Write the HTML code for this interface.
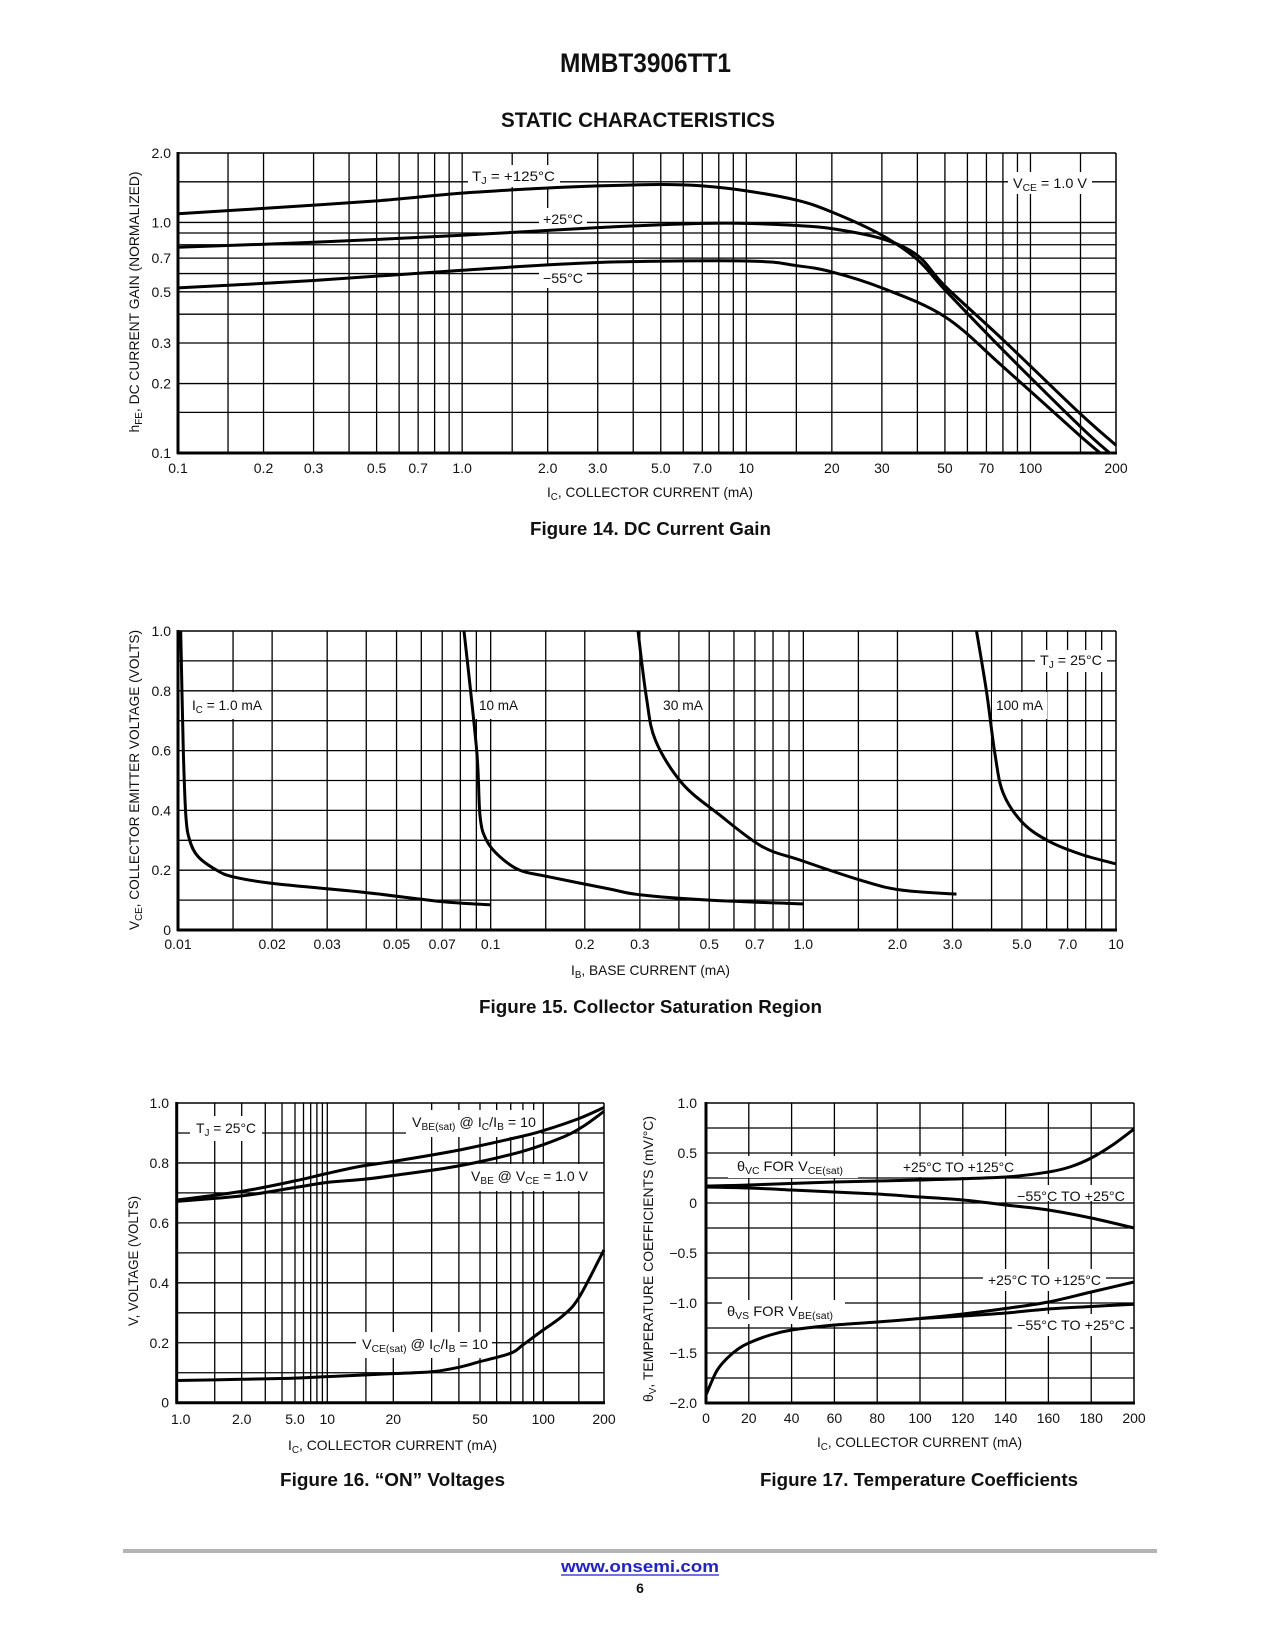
<!DOCTYPE html>
<html>
<head>
<meta charset="utf-8">
<style>
html,body{margin:0;padding:0;background:#fff;}
svg{display:block;font-family:"Liberation Sans",Arial,sans-serif;}
.t{font-size:14px;fill:#111;}
.b{font-weight:bold;fill:#111;}
</style>
</head>
<body>
<svg id="page" xmlns="http://www.w3.org/2000/svg" width="1275" height="1650" viewBox="0 0 1275 1650">
<rect x="0" y="0" width="1275" height="1650" fill="#fff"/>
<g id="grids"></g>
<g id="bgs" fill="#fff">
  <rect x="468" y="165" width="92" height="22"/>
  <rect x="539" y="208" width="48" height="21"/>
  <rect x="539" y="266" width="48" height="22"/>
  <rect x="1008" y="172" width="84" height="22"/>
  <rect x="188" y="692" width="78" height="27"/>
  <rect x="475" y="692" width="47" height="27"/>
  <rect x="659" y="692" width="48" height="27"/>
  <rect x="992" y="692" width="55" height="27"/>
  <rect x="1035" y="650" width="72" height="22"/>
  <rect x="190" y="1116" width="72" height="25"/>
  <rect x="406" y="1110" width="135" height="27"/>
  <rect x="466" y="1164" width="126" height="27"/>
  <rect x="356" y="1332" width="136" height="26"/>
  <rect x="728" y="1156" width="130" height="22"/>
  <rect x="898" y="1156" width="122" height="21"/>
  <rect x="1012" y="1185" width="118" height="16"/>
  <rect x="983" y="1269" width="123" height="22"/>
  <rect x="722" y="1300" width="123" height="24"/>
  <rect x="1012" y="1314" width="118" height="22"/>
</g>
<g id="frames"></g>
<g id="curves"></g>
<g id="ticks"></g>

<!-- headings -->
<text class="b" x="560" y="72" font-size="27" textLength="171" lengthAdjust="spacingAndGlyphs">MMBT3906TT1</text>
<text class="b" x="501" y="127" font-size="21" textLength="274" lengthAdjust="spacingAndGlyphs">STATIC CHARACTERISTICS</text>

<!-- fig 14 -->
<text class="t" transform="translate(139,302) rotate(-90)" text-anchor="middle" textLength="261" lengthAdjust="spacingAndGlyphs">h<tspan font-size="10" dy="3">FE</tspan><tspan dy="-3">, DC CURRENT GAIN (NORMALIZED)</tspan></text>
<text class="t" x="547" y="497" textLength="206" lengthAdjust="spacingAndGlyphs">I<tspan font-size="10" dy="3">C</tspan><tspan dy="-3">, COLLECTOR CURRENT (mA)</tspan></text>
<text class="b" x="530" y="535" font-size="18" textLength="241" lengthAdjust="spacingAndGlyphs">Figure 14. DC Current Gain</text>
<text class="t" x="472" y="181" textLength="83" lengthAdjust="spacingAndGlyphs">T<tspan font-size="10" dy="3">J</tspan><tspan dy="-3"> = +125°C</tspan></text>
<text class="t" x="543" y="224" textLength="40" lengthAdjust="spacingAndGlyphs">+25°C</text>
<text class="t" x="543" y="283" textLength="40" lengthAdjust="spacingAndGlyphs">−55°C</text>
<text class="t" x="1013" y="188" textLength="74" lengthAdjust="spacingAndGlyphs">V<tspan font-size="10" dy="3">CE</tspan><tspan dy="-3"> = 1.0 V</tspan></text>

<!-- fig 15 -->
<text class="t" transform="translate(139,780) rotate(-90)" text-anchor="middle" textLength="300" lengthAdjust="spacingAndGlyphs">V<tspan font-size="10" dy="3">CE</tspan><tspan dy="-3">, COLLECTOR EMITTER VOLTAGE (VOLTS)</tspan></text>
<text class="t" x="571" y="975" textLength="159" lengthAdjust="spacingAndGlyphs">I<tspan font-size="10" dy="3">B</tspan><tspan dy="-3">, BASE CURRENT (mA)</tspan></text>
<text class="b" x="479" y="1013" font-size="18" textLength="343" lengthAdjust="spacingAndGlyphs">Figure 15. Collector Saturation Region</text>
<text class="t" x="192" y="710" textLength="70" lengthAdjust="spacingAndGlyphs">I<tspan font-size="10" dy="3">C</tspan><tspan dy="-3"> = 1.0 mA</tspan></text>
<text class="t" x="479" y="710" textLength="39" lengthAdjust="spacingAndGlyphs">10 mA</text>
<text class="t" x="663" y="710" textLength="40" lengthAdjust="spacingAndGlyphs">30 mA</text>
<text class="t" x="996" y="710" textLength="47" lengthAdjust="spacingAndGlyphs">100 mA</text>
<text class="t" x="1040" y="665" textLength="62" lengthAdjust="spacingAndGlyphs">T<tspan font-size="10" dy="3">J</tspan><tspan dy="-3"> = 25°C</tspan></text>

<!-- fig 16 -->
<text class="t" transform="translate(138,1261) rotate(-90)" text-anchor="middle" textLength="130" lengthAdjust="spacingAndGlyphs">V, VOLTAGE (VOLTS)</text>
<text class="t" x="288" y="1450" textLength="209" lengthAdjust="spacingAndGlyphs">I<tspan font-size="10" dy="3">C</tspan><tspan dy="-3">, COLLECTOR CURRENT (mA)</tspan></text>
<text class="b" x="280" y="1486" font-size="18" textLength="225" lengthAdjust="spacingAndGlyphs">Figure 16. “ON” Voltages</text>
<text class="t" x="196" y="1133" textLength="60" lengthAdjust="spacingAndGlyphs">T<tspan font-size="10" dy="3">J</tspan><tspan dy="-3"> = 25°C</tspan></text>
<text class="t" x="412" y="1127" textLength="124" lengthAdjust="spacingAndGlyphs">V<tspan font-size="10" dy="3">BE(sat)</tspan><tspan dy="-3"> @ I</tspan><tspan font-size="10" dy="3">C</tspan><tspan dy="-3">/I</tspan><tspan font-size="10" dy="3">B</tspan><tspan dy="-3"> = 10</tspan></text>
<text class="t" x="471" y="1181" textLength="117" lengthAdjust="spacingAndGlyphs">V<tspan font-size="10" dy="3">BE</tspan><tspan dy="-3"> @ V</tspan><tspan font-size="10" dy="3">CE</tspan><tspan dy="-3"> = 1.0 V</tspan></text>
<text class="t" x="362" y="1349" textLength="126" lengthAdjust="spacingAndGlyphs">V<tspan font-size="10" dy="3">CE(sat)</tspan><tspan dy="-3"> @ I</tspan><tspan font-size="10" dy="3">C</tspan><tspan dy="-3">/I</tspan><tspan font-size="10" dy="3">B</tspan><tspan dy="-3"> = 10</tspan></text>

<!-- fig 17 -->
<text class="t" transform="translate(653,1259) rotate(-90)" text-anchor="middle" textLength="286" lengthAdjust="spacingAndGlyphs">θ<tspan font-size="10" dy="3">V</tspan><tspan dy="-3">, TEMPERATURE COEFFICIENTS (mV/°C)</tspan></text>
<text class="t" x="817" y="1447" textLength="205" lengthAdjust="spacingAndGlyphs">I<tspan font-size="10" dy="3">C</tspan><tspan dy="-3">, COLLECTOR CURRENT (mA)</tspan></text>
<text class="b" x="760" y="1486" font-size="18" textLength="318" lengthAdjust="spacingAndGlyphs">Figure 17. Temperature Coefficients</text>
<text class="t" x="737" y="1171" textLength="106" lengthAdjust="spacingAndGlyphs">θ<tspan font-size="10" dy="3">VC</tspan><tspan dy="-3"> FOR V</tspan><tspan font-size="10" dy="3">CE(sat)</tspan></text>
<text class="t" x="903" y="1172" textLength="111" lengthAdjust="spacingAndGlyphs">+25°C TO +125°C</text>
<text class="t" x="1017" y="1201" textLength="108" lengthAdjust="spacingAndGlyphs">−55°C TO +25°C</text>
<text class="t" x="988" y="1285" textLength="113" lengthAdjust="spacingAndGlyphs">+25°C TO +125°C</text>
<text class="t" x="727" y="1316" textLength="106" lengthAdjust="spacingAndGlyphs">θ<tspan font-size="10" dy="3">VS</tspan><tspan dy="-3"> FOR V</tspan><tspan font-size="10" dy="3">BE(sat)</tspan></text>
<text class="t" x="1017" y="1330" textLength="108" lengthAdjust="spacingAndGlyphs">−55°C TO +25°C</text>

<!-- footer -->
<line x1="123" y1="1558" x2="1157" y2="1558" stroke="#b4b4b4" stroke-width="4" transform="translate(0,-7)"/>
<text class="b" x="561" y="1572" font-size="17" fill="#1f1fd6" style="fill:#1f1fd6" textLength="158" lengthAdjust="spacingAndGlyphs">www.onsemi.com</text>
<line x1="561" y1="1575" x2="719" y2="1575" stroke="#1f1fd6" stroke-width="1.3"/>
<text class="b" x="640" y="1593" font-size="14" text-anchor="middle">6</text>
</svg>

<script>
// ---------- Figure 14 data ----------
const fig14Current125 = [0.1,0.2,0.5,1,2,3,5,7,10,15,20,30,40,50,80,150,190];
const fig14Gain125    = [1.09,1.15,1.24,1.34,1.41,1.44,1.46,1.44,1.37,1.25,1.11,0.88,0.69,0.51,0.28,0.13,0.1];
const fig14Current25  = [0.1,0.3,1,3,7,10,15,20,30,40,50,80,148,200];
const fig14Gain25     = [0.78,0.82,0.88,0.95,0.99,0.99,0.97,0.94,0.85,0.72,0.53,0.31,0.15,0.108];
const fig14CurrentM55 = [0.1,0.3,1,3,10,15,20,30,50,80,148,176];
const fig14GainM55    = [0.52,0.56,0.62,0.67,0.68,0.65,0.61,0.52,0.39,0.237,0.12,0.1];
const fig14XTicks = ["0.1","0.2","0.3","0.5","0.7","1.0","2.0","3.0","5.0","7.0","10","20","30","50","70","100","200"];
const fig14YTicks = ["0.1","0.2","0.3","0.5","0.7","1.0","2.0"];

// ---------- Figure 15 data ----------
const fig15IB1   = [0.0102,0.0104,0.0106,0.0109,0.0116,0.0133,0.015,0.02,0.04,0.07,0.1];
const fig15VCE1  = [1.0,0.6,0.38,0.3,0.245,0.2,0.178,0.156,0.125,0.095,0.084];
const fig15IB10  = [0.0822,0.0902,0.0925,0.097,0.107,0.124,0.15,0.24,0.3,0.5,1.0];
const fig15VCE10 = [1.0,0.6,0.38,0.3,0.245,0.2,0.18,0.137,0.118,0.1,0.087];
const fig15IB30  = [0.296,0.315,0.337,0.41,0.538,0.736,0.975,1.52,2.04,3.09];
const fig15VCE30 = [1.0,0.776,0.633,0.49,0.386,0.28,0.234,0.167,0.134,0.12];
const fig15IB100  = [3.58,3.85,4.1,4.36,5.05,6.15,7.85,10];
const fig15VCE100 = [1.0,0.8,0.59,0.457,0.357,0.295,0.251,0.221];
const fig15XTicks = ["0.01","0.02","0.03","0.05","0.07","0.1","0.2","0.3","0.5","0.7","1.0","2.0","3.0","5.0","7.0","10"];
const fig15YTicks = ["0","0.2","0.4","0.6","0.8","1.0"];

// ---------- Figure 16 data ----------
const fig16IcBEsat = [1,2,5,10,14.5,20,40,78,100,150,200];
const fig16VBEsat  = [0.676,0.705,0.74,0.765,0.79,0.805,0.843,0.888,0.908,0.948,0.985];
const fig16IcBE    = [1,2,5,10,14.5,20,40,78,127,160,200];
const fig16VBE     = [0.672,0.69,0.718,0.735,0.745,0.758,0.79,0.837,0.888,0.925,0.972];
const fig16IcCEsat = [1,2,5,10,20,30,40,50,70,80,100,125,150,200];
const fig16VCEsat  = [0.074,0.078,0.082,0.087,0.097,0.103,0.118,0.137,0.165,0.193,0.243,0.29,0.35,0.51];
const fig16XTicks = ["1.0","2.0","5.0","10","20","50","100","200"];
const fig16YTicks = ["0","0.2","0.4","0.6","0.8","1.0"];

// ---------- Figure 17 data ----------
const fig17IcVC125 = [0,20,60,100,140,160,170,180,190,200];
const fig17VC125   = [0.17,0.18,0.21,0.23,0.26,0.31,0.36,0.45,0.58,0.74];
const fig17IcVC55  = [0,20,40,60,80,100,120,140,160,180,200];
const fig17VC55    = [0.16,0.15,0.13,0.11,0.09,0.06,0.03,-0.02,-0.07,-0.15,-0.25];
const fig17IcVS125 = [0,5,10,15,20,30,40,60,80,100,120,140,160,180,200];
const fig17VS125   = [-1.92,-1.68,-1.55,-1.46,-1.4,-1.32,-1.27,-1.22,-1.19,-1.155,-1.11,-1.055,-0.99,-0.89,-0.79];
const fig17IcVS55  = [100,120,140,160,180,200];
const fig17VS55    = [-1.155,-1.13,-1.1,-1.06,-1.035,-1.012];
const fig17XTicks = ["0","20","40","60","80","100","120","140","160","180","200"];
const fig17YTicks = ["-2.0","-1.5","-1.0","-0.5","0","0.5","1.0"];

const NS = "http://www.w3.org/2000/svg";
const gGrid = document.getElementById('grids');
const gFrame = document.getElementById('frames');
const gCurve = document.getElementById('curves');
const gTick = document.getElementById('ticks');

// axis functions
const X14 = {l:178, r:1116}, Y14 = {t:153, b:453};
function x14(v){ return X14.l + (X14.r - X14.l) * (Math.log10(v) + 1) / Math.log10(2000); }
function y14(v){ return Y14.b - (Y14.b - Y14.t) * Math.log10(v / 0.1) / Math.log10(20); }
const X15 = {l:178, r:1116}, Y15 = {t:631, b:930};
function x15(v){ return X15.l + (X15.r - X15.l) * (Math.log10(v) + 2) / 3; }
function y15(v){ return Y15.b - (Y15.b - Y15.t) * v; }
// figure 16 has a non-uniform printed log axis: calibrate from its tick anchors
const fig16AnchorVals = [1,2,5,10,20,50,100,200];
const fig16AnchorPos  = [176.7,241.7,295,327.3,393.3,480,543.3,604];
const Y16 = {t:1103, b:1402.7};
function x16(v){
  const a = fig16AnchorVals, p = fig16AnchorPos;
  for (let i = 0; i < a.length - 1; i++) {
    if (v <= a[i+1] || i === a.length - 2) {
      const f = Math.log(v / a[i]) / Math.log(a[i+1] / a[i]);
      return p[i] + f * (p[i+1] - p[i]);
    }
  }
}
function y16(v){ return Y16.b - (Y16.b - Y16.t) * v; }
const X17 = {l:706, r:1134}, Y17 = {t:1103, b:1403};
function x17(v){ return X17.l + (X17.r - X17.l) * v / 200; }
function y17(v){ return Y17.b - (Y17.b - Y17.t) * (v + 2) / 3; }

function mkLine(parent, x1, y1, x2, y2, w){
  const e = document.createElementNS(NS, 'line');
  e.setAttribute('x1', x1); e.setAttribute('y1', y1);
  e.setAttribute('x2', x2); e.setAttribute('y2', y2);
  e.setAttribute('stroke', '#000'); e.setAttribute('stroke-width', w);
  parent.appendChild(e);
  return e;
}
function mkText(x, y, s, anchor){
  const e = document.createElementNS(NS, 'text');
  e.setAttribute('x', x); e.setAttribute('y', y);
  e.setAttribute('class', 't');
  e.setAttribute('text-anchor', anchor);
  e.textContent = s;
  gTick.appendChild(e);
  return e;
}
function smoothPath(pts){
  let d = 'M' + pts[0][0].toFixed(1) + ' ' + pts[0][1].toFixed(1);
  for (let i = 0; i < pts.length - 1; i++) {
    const p0 = pts[Math.max(0, i-1)], p1 = pts[i], p2 = pts[i+1], p3 = pts[Math.min(pts.length-1, i+2)];
    const c1x = p1[0] + (p2[0]-p0[0])/6, c1y = p1[1] + (p2[1]-p0[1])/6;
    const c2x = p2[0] - (p3[0]-p1[0])/6, c2y = p2[1] - (p3[1]-p1[1])/6;
    d += ' C' + c1x.toFixed(1)+' '+c1y.toFixed(1)+' '+c2x.toFixed(1)+' '+c2y.toFixed(1)+' '+p2[0].toFixed(1)+' '+p2[1].toFixed(1);
  }
  return d;
}
function drawCurve(xs, ys, fx, fy, name){
  const pts = xs.map((v, i) => [fx(v), fy(ys[i])]);
  const p = document.createElementNS(NS, 'path');
  p.setAttribute('d', smoothPath(pts));
  p.setAttribute('fill', 'none');
  p.setAttribute('stroke', '#000');
  p.setAttribute('stroke-width', '3');
  p.setAttribute('stroke-linejoin', 'round');
  
  
  gCurve.appendChild(p);
}
function frame(l, t, r, b, name){
  const top = mkLine(gFrame, l, t, r, t, 1.5);
  
  
  const right = mkLine(gFrame, r, t, r, b, 1.5);
  
  
  const bottom = mkLine(gFrame, l - 1, b, r + 1, b, 3);
  
  
  const left = mkLine(gFrame, l, t - 1, l, b + 1, 3);
  
  
}
const mults = [1,1.5,2,3,4,5,6,7,8,9];

// ---------- Figure 14 ----------
[0.1,1,10,100].forEach(d => mults.forEach(m => {
  const v = d * m; if (v <= 0.1 || v >= 200) return;
  const l = mkLine(gGrid, x14(v), Y14.t, x14(v), Y14.b, 1.3);
  
  
}));
[0.15,0.2,0.3,0.4,0.5,0.6,0.7,0.8,0.9,1.0,1.5].forEach(v => {
  const l = mkLine(gGrid, X14.l, y14(v), X14.r, y14(v), 1.3);
  
  
});
frame(X14.l, Y14.t, X14.r, Y14.b, 'fig14');
fig14XTicks.forEach(s => {
  const t = mkText(x14(parseFloat(s)), 473, s, 'middle');
  
  
});
fig14YTicks.forEach(s => {
  const t = mkText(171, y14(parseFloat(s)) + 5, s, 'end');
  
  
});
drawCurve(fig14Current125, fig14Gain125, x14, y14, 'fig14-curve-125c');
drawCurve(fig14Current25, fig14Gain25, x14, y14, 'fig14-curve-25c');
drawCurve(fig14CurrentM55, fig14GainM55, x14, y14, 'fig14-curve-minus55c');

// ---------- Figure 15 ----------
[0.01,0.1,1].forEach(d => mults.forEach(m => {
  const v = d * m; if (v <= 0.01) return;
  const l = mkLine(gGrid, x15(v), Y15.t, x15(v), Y15.b, 1.3);
  
  
}));
for (let i = 1; i < 10; i++) {
  const l = mkLine(gGrid, X15.l, y15(i/10), X15.r, y15(i/10), 1.3);
  
  
}
frame(X15.l, Y15.t, X15.r, Y15.b, 'fig15');
fig15XTicks.forEach(s => {
  const t = mkText(x15(parseFloat(s)), 949, s, 'middle');
  
  
});
fig15YTicks.forEach(s => {
  const t = mkText(171, y15(parseFloat(s)) + 5, s, 'end');
  
  
});
drawCurve(fig15IB1, fig15VCE1, x15, y15, 'fig15-curve-1ma');
drawCurve(fig15IB10, fig15VCE10, x15, y15, 'fig15-curve-10ma');
drawCurve(fig15IB30, fig15VCE30, x15, y15, 'fig15-curve-30ma');
drawCurve(fig15IB100, fig15VCE100, x15, y15, 'fig15-curve-100ma');

// ---------- Figure 16 ----------
[1.5,2,3,4,5,6,7,8,9,10,15,20,30,40,50,60,70,80,90,100,150].forEach(v => {
  const l = mkLine(gGrid, x16(v), Y16.t, x16(v), Y16.b, 1.3);
  
  
});
for (let i = 1; i < 10; i++) {
  const l = mkLine(gGrid, fig16AnchorPos[0], y16(i/10), fig16AnchorPos[7], y16(i/10), 1.3);
  
  
}
frame(fig16AnchorPos[0], Y16.t, fig16AnchorPos[7], Y16.b, 'fig16');
fig16XTicks.forEach(s => {
  const t = mkText(x16(parseFloat(s)) + (s === "1.0" ? 4 : 0), 1424, s, 'middle');
  
  
});
fig16YTicks.forEach(s => {
  const t = mkText(169, y16(parseFloat(s)) + 5, s, 'end');
  
  
});
drawCurve(fig16IcBEsat, fig16VBEsat, x16, y16, 'fig16-curve-vbe-sat');
drawCurve(fig16IcBE, fig16VBE, x16, y16, 'fig16-curve-vbe');
drawCurve(fig16IcCEsat, fig16VCEsat, x16, y16, 'fig16-curve-vce-sat');

// ---------- Figure 17 ----------
for (let v = 20; v < 200; v += 20) {
  const l = mkLine(gGrid, x17(v), Y17.t, x17(v), Y17.b, 1.3);
  
  
}
for (let v = -1.75; v < 1; v += 0.25) {
  const l = mkLine(gGrid, X17.l, y17(v), X17.r, y17(v), 1.3);
  
  
}
frame(X17.l, Y17.t, X17.r, Y17.b, 'fig17');
fig17XTicks.forEach(s => {
  const t = mkText(x17(parseFloat(s)), 1423, s, 'middle');
  
  
});
fig17YTicks.forEach(s => {
  const t = mkText(697, y17(parseFloat(s)) + 5, s.replace('-', '−'), 'end');
  
  
});
drawCurve(fig17IcVC125, fig17VC125, x17, y17, 'fig17-curve-vc-25-125');
drawCurve(fig17IcVC55, fig17VC55, x17, y17, 'fig17-curve-vc-m55-25');
drawCurve(fig17IcVS125, fig17VS125, x17, y17, 'fig17-curve-vs-25-125');
drawCurve(fig17IcVS55, fig17VS55, x17, y17, 'fig17-curve-vs-m55-25');
</script>
</body>
</html>
